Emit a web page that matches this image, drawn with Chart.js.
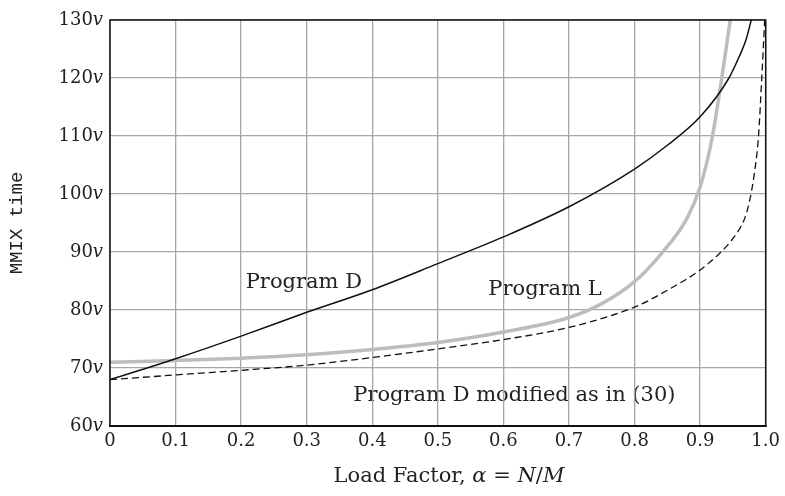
<!DOCTYPE html>
<html>
<head>
<meta charset="utf-8">
<script src="https://cdn.jsdelivr.net/npm/chart.js@4.4.1/dist/chart.umd.min.js"></script>
<style>
    html, body { margin: 0; padding: 0; background: #fff; }
    #wrap { width: 785px; height: 496px; }
</style>
</head>
<body>
<div id="wrap"><canvas id="hashChart"></canvas></div>
<script>
/* ============================================
   DATA
   ============================================ */

const progD_alpha = [0, 0.1, 0.2, 0.3, 0.4, 0.5, 0.6, 0.7, 0.8, 0.85, 0.9, 0.944, 0.96, 0.97, 0.978, 0.985];
const progD_time  = [68, 71.6, 75.5, 79.6, 83.5, 88, 92.6, 97.8, 104.3, 108.4, 113.3, 120, 123.8, 126.6, 130, 133];

const progL_alpha = [0, 0.1, 0.2, 0.3, 0.4, 0.5, 0.6, 0.7, 0.75, 0.8, 0.84, 0.88, 0.9, 0.918, 0.933, 0.946, 0.95];
const progL_time  = [71, 71.3, 71.7, 72.3, 73.2, 74.4, 76.2, 78.7, 81.1, 84.9, 89.6, 95.8, 101.2, 109.5, 120, 130, 133];

const progDmod_alpha = [0, 0.1, 0.2, 0.3, 0.4, 0.5, 0.6, 0.7, 0.8, 0.85, 0.9, 0.93, 0.945, 0.958, 0.968, 0.975, 0.982, 0.989, 0.994, 0.9985];
const progDmod_time  = [68, 68.8, 69.6, 70.5, 71.8, 73.3, 74.9, 77.0, 80.5, 83.4, 86.9, 89.8, 91.6, 93.6, 95.8, 98.6, 103.0, 109.9, 120, 130];

const yTickValues = [60, 70, 80, 90, 100, 110, 120, 130];

const curveLabels = [
    { text: "Program D", x: 0.207, y: 83.8 },
    { text: "Program L", x: 0.577, y: 82.6 },
    { text: "Program D modified as in (30)", x: 0.371, y: 64.3 }
];

function toPoints(xs, ys) {
    return xs.map((x, i) => ({ x: x, y: ys[i] }));
}

const serif = "'DejaVu Serif', serif";

/* ============================================
   PLUGIN: box, curve labels, math-style text
   ============================================ */

const knuthText = {
    id: "knuthText",
    beforeDraw(chart) {
        const ctx = chart.ctx;
        const xs = chart.scales.x, ys = chart.scales.y;
        ctx.save();
        ctx.fillStyle = "#222";
        ctx.font = "21px " + serif;
        ctx.textBaseline = "alphabetic";
        ctx.textAlign = "left";
        curveLabels.forEach(l => {
            ctx.fillText(l.text, xs.getPixelForValue(l.x), ys.getPixelForValue(l.y));
        });
        ctx.restore();
    },
    afterDraw(chart) {
        const ctx = chart.ctx;
        const a = chart.chartArea;
        const ys = chart.scales.y;
        ctx.save();

        // frame
        ctx.strokeStyle = "#111";
        ctx.lineWidth = 1.5;
        ctx.strokeRect(a.left, a.top, a.right - a.left, a.bottom - a.top);
        ctx.lineWidth = 2.2;
        ctx.beginPath();
        ctx.moveTo(a.left - 1, a.bottom);
        ctx.lineTo(a.right + 1, a.bottom);
        ctx.stroke();

        // y tick labels: number + italic v
        ctx.fillStyle = "#222";
        ctx.textBaseline = "middle";
        ctx.textAlign = "left";
        yTickValues.forEach(v => {
            const y = ys.getPixelForValue(v);
            ctx.font = "italic 18px " + serif;
            const wv = ctx.measureText("v").width;
            ctx.font = "18px " + serif;
            const wn = ctx.measureText(String(v)).width;
            const x0 = a.left - 7 - wv - wn;
            ctx.fillText(String(v), x0, y);
            ctx.font = "italic 18px " + serif;
            ctx.fillText("v", x0 + wn, y);
        });

        // x axis title with math italics
        const parts = [
            ["Load Factor, ", false], ["α", true], [" = ", false],
            ["N", true], ["/", false], ["M", true]
        ];
        let total = 0;
        parts.forEach(p => {
            ctx.font = (p[1] ? "italic " : "") + "21px " + serif;
            total += ctx.measureText(p[0]).width;
        });
        let x = 449 - total / 2;
        ctx.textBaseline = "alphabetic";
        parts.forEach(p => {
            ctx.font = (p[1] ? "italic " : "") + "21px " + serif;
            ctx.fillText(p[0], x, 482);
            x += ctx.measureText(p[0]).width;
        });
        ctx.restore();
    }
};

/* ============================================
   CHART
   ============================================ */

document.addEventListener("DOMContentLoaded", function () {

    const ctx = document.getElementById("hashChart");

    new Chart(ctx, {
        type: "line",
        data: {
            datasets: [{
                label: "Program D",
                data: toPoints(progD_alpha, progD_time),
                borderColor: "#111",
                borderWidth: 1.5,
                cubicInterpolationMode: "monotone",
                pointRadius: 0
            }, {
                label: "Program L",
                data: toPoints(progL_alpha, progL_time),
                borderColor: "#bdbdbd",
                borderWidth: 3.5,
                cubicInterpolationMode: "monotone",
                pointRadius: 0
            }, {
                label: "Program D modified as in (30)",
                data: toPoints(progDmod_alpha, progDmod_time),
                borderColor: "#111",
                borderWidth: 1.3,
                borderDash: [7, 4],
                cubicInterpolationMode: "monotone",
                pointRadius: 0
            }]
        },
        options: {
            responsive: true,
            maintainAspectRatio: false,
            animation: false,
            events: [],
            layout: { padding: { left: 0, right: 18, top: 20, bottom: 0 } },
            plugins: {
                legend: { display: false },
                tooltip: { enabled: false }
            },
            scales: {
                x: {
                    type: "linear",
                    min: 0,
                    max: 1,
                    afterFit: s => { s.height = 70; },
                    ticks: {
                        stepSize: 0.1,
                        padding: 5,
                        color: "#222",
                        font: { family: serif, size: 18 },
                        maxRotation: 0,
                        callback: v => v === 0 ? "0" : v.toFixed(1)
                    },
                    grid: { color: "#a6a6a6", lineWidth: 1.3, drawTicks: false },
                    border: { display: false }
                },
                y: {
                    min: 60,
                    max: 130,
                    afterFit: s => { s.width = 110; },
                    ticks: { stepSize: 10, display: false },
                    grid: { color: "#a6a6a6", lineWidth: 1.3, drawTicks: false },
                    border: { display: false },
                    title: {
                        display: true,
                        text: "MMIX time",
                        color: "#222",
                        font: { family: "'Liberation Mono', monospace", size: 19 },
                        padding: { top: 6, bottom: 0 }
                    }
                }
            }
        },
        plugins: [knuthText]
    });
});
</script>
</body>
</html>
